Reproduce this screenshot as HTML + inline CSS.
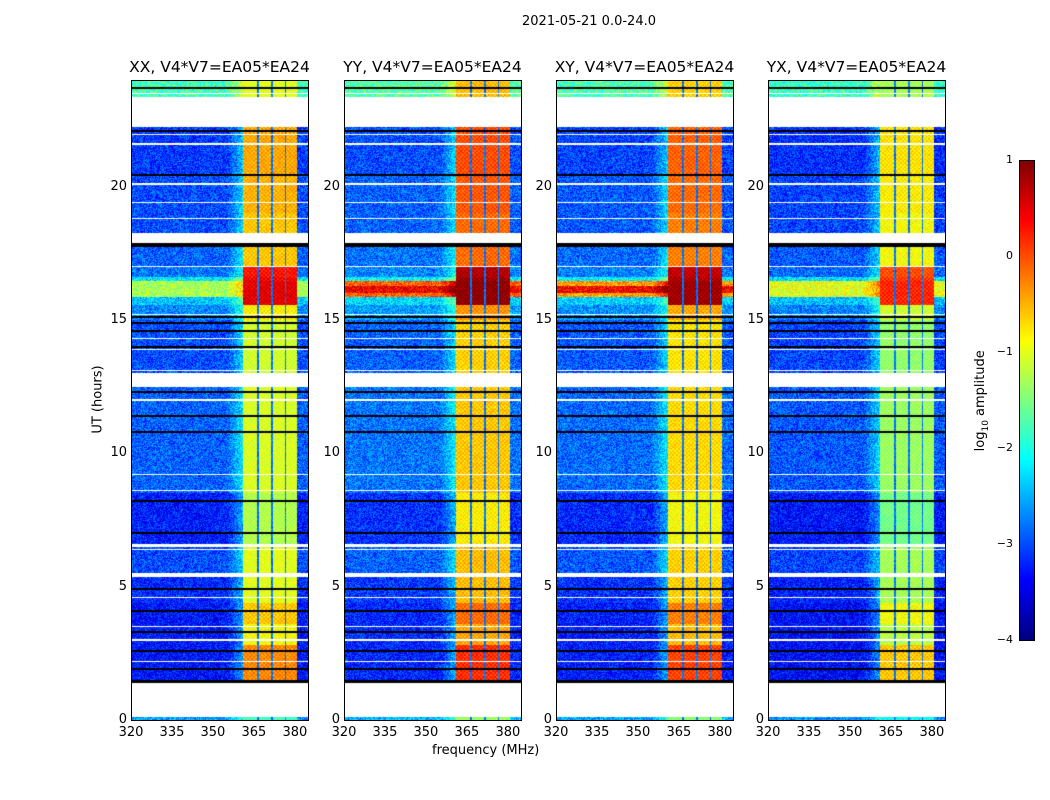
<!DOCTYPE html>
<html><head><meta charset="utf-8">
<style>
body{margin:0;background:#fff;}
#root{position:relative;width:1050px;height:800px;background:#fff;font-family:"DejaVu Sans","Liberation Sans",sans-serif;color:#000;overflow:hidden;}
.t{position:absolute;white-space:nowrap;}
canvas{position:absolute;}
.frame{position:absolute;border:1px solid #000;box-sizing:border-box;}
</style></head>
<body>
<div id="root">
  <div class="t" style="left:0;width:1178px;top:14px;text-align:center;font-size:13px;">2021-05-21 0.0-24.0</div>
  <div class="t" style="left:432px;top:743px;font-size:13px;">frequency (MHz)</div>
  <div class="t" style="left:60px;top:392px;font-size:13px;transform:rotate(-90deg);transform-origin:center;width:76px;text-align:center;">UT (hours)</div>
  <div class="t" style="left:930px;top:392px;font-size:13px;transform:rotate(-90deg);width:104px;text-align:center;">log<sub style="font-size:9px">10</sub> amplitude</div>
</div>
<script>
// ---- data ----
const panelTitles = ["XX, V4*V7=EA05*EA24","YY, V4*V7=EA05*EA24","XY, V4*V7=EA05*EA24","YX, V4*V7=EA05*EA24"];
const panelBgOffset = [0, 0.1, 0.05, -0.05];
const panelBandOffset = [0, 0.45, 0.35, -0.3];
const panelStripe = [-1.3, -0.1, -0.4, -1.0]; // level of 16h broadband stripe
// time segments: [start h, end h, background log10, band log10]; null bg = gap(white)
const segStart = [0, 0.12, 1.4, 1.5, 2.8, 3.6, 4.4, 5.35, 5.5, 6.5, 6.6, 8.5, 12.5, 13.0, 15.0, 15.55, 15.85, 16.45, 16.6, 17.0, 17.5, 17.73, 17.9, 18.26, 19.0, 20.4, 22.23, 23.36];
const segEnd   = [0.12, 1.4, 1.5, 2.8, 3.6, 4.4, 5.35, 5.5, 6.5, 6.6, 8.5, 12.5, 13.0, 15.0, 15.55, 15.85, 16.45, 16.6, 17.0, 17.5, 17.73, 17.9, 18.26, 19.0, 20.4, 22.23, 23.36, 24];
const segBg    = [-2.6, null, "k", -3.3, -3.3, -3.3, -3.2, null, -3.0, null, -3.25, -2.9, null, -3.0, -2.7, -2.4, "S", -2.2, -2.8, -2.9, -2.9, "k", null, -3.0, -3.0, -3.1, null, -1.8];
const segBand  = [-1.8, null, "k", -0.3, -0.9, -0.6, -1.0, null, -1.0, null, -1.25, -1.05, null, -1.1, -0.8, 0.5, 0.5, 0.4, 0.3, -0.6, -0.6, "k", null, -0.6, -0.5, -0.45, null, -1.0];
const whiteLines = [0.45, 2.2, 3.0, 3.5, 4.6, 6.4, 8.6, 9.2, 12.0, 13.1, 13.9, 14.3, 15.2, 17.0, 18.8, 19.4, 20.1, 21.6, 21.97, 23.5];
const blackLines = [1.9, 2.6, 3.3, 4.1, 4.9, 7.0, 8.2, 10.8, 11.4, 12.3, 14.0, 14.6, 14.9, 15.1, 20.44, 22.1, 23.7];
const bandEdges = [361, 366, 366.7, 371.2, 371.9, 376.2, 376.9, 380.8];
const xTicks = [320, 335, 350, 365, 380];
const yTicks = [0, 5, 10, 15, 20];
const cbTicks = [1, 0, -1, -2, -3, -4];
const freqMin = 320, freqMax = 384.8, tMin = 0, tMax = 24, vMin = -4, vMax = 1;

// ---- layout ----
const root = document.getElementById('root');
const panelLeft = [131, 344, 556, 768], panelW = 177, panelTop = 80, panelH = 640;
function xScale(f, i){ return panelLeft[i] + (f - freqMin) / (freqMax - freqMin) * panelW; }
function yScale(t){ return panelTop + panelH - (t - tMin) / (tMax - tMin) * panelH; }
function jet(v){
  let x = (v - vMin) / (vMax - vMin); x = Math.max(0, Math.min(1, x));
  const r = Math.max(0, Math.min(1, 1.5 - Math.abs(4*x - 3)));
  const g = Math.max(0, Math.min(1, 1.5 - Math.abs(4*x - 2)));
  const b = Math.max(0, Math.min(1, 1.5 - Math.abs(4*x - 1)));
  return [r*255|0, g*255|0, b*255|0];
}
function hash(a, b){ let h = (a*374761393 + b*668265263) | 0; h = (h ^ (h >>> 13)) * 1274126177; h = h ^ (h >>> 16); return ((h >>> 0) % 1000) / 1000; }
function inBand(f){ for (let k = 0; k < bandEdges.length; k += 2) if (f >= bandEdges[k] && f < bandEdges[k+1]) return true; return false; }
function near(t, arr, tol){ for (const a of arr) if (Math.abs(t - a) < tol) return true; return false; }

function value(i, t, f, px, py){
  let s = -1;
  for (let k = 0; k < segStart.length; k++) if (t >= segStart[k] && t < segEnd[k]) { s = k; break; }
  if (s < 0) s = segStart.length - 1;
  const bg = segBg[s];
  if (bg === null) return null;
  if (bg === "k") return "k";
  if (near(t, blackLines, 0.035)) return "k";
  if (near(t, whiteLines, 0.02)) return null;
  let base = bg === "S" ? panelStripe[i] : bg + panelBgOffset[i];
  if (bg === "S" && (i === 1 || i === 2) && Math.abs(t - 16.15) < 0.12) base = 0.4;
  const n = hash(px + i*1000, py) - 0.5;
  if (f >= 361 && f < 380.8) {
    if (!inBand(f)) return segBand[s] === "k" ? "k" : -2.8 + n*0.5;
    let bv = segBand[s] + panelBandOffset[i];
    bv = Math.min(bv, 0.95);
    const chk = ((px >> 1) + (py >> 1)) % 2 ? 0.12 : -0.12;
    return bv + chk + n * 0.3;
  }
  if (f >= 355 && f < 361) base += (f - 355) / 6 * 0.7;
  return base + n * 0.9;
}

function add(tag, name, inter, style, text){
  const el = document.createElement(tag);
  
  
  if (style) el.style.cssText = style;
  if (text !== undefined) el.textContent = text;
  root.appendChild(el);
  return el;
}

for (let i = 0; i < 4; i++) {
  const cv = document.createElement('canvas');
  
  
  cv.width = panelW; cv.height = panelH;
  cv.style.left = panelLeft[i] + 'px'; cv.style.top = panelTop + 'px';
  root.appendChild(cv);
  const ctx = cv.getContext('2d');
  const img = ctx.createImageData(panelW, panelH);
  for (let py = 0; py < panelH; py++) {
    const t = tMax - (py + 0.5) / panelH * (tMax - tMin);
    for (let px = 0; px < panelW; px++) {
      const f = freqMin + (px + 0.5) / panelW * (freqMax - freqMin);
      const v = value(i, t, f, px, py);
      let c;
      if (v === null) c = [255,255,255]; else if (v === "k") c = [0,0,0]; else c = jet(v);
      const o = (py * panelW + px) * 4;
      img.data[o] = c[0]; img.data[o+1] = c[1]; img.data[o+2] = c[2]; img.data[o+3] = 255;
    }
  }
  ctx.putImageData(img, 0, 0);
  add('div', 'panel-frame-' + (i+1), 'false', `left:${panelLeft[i]}px;top:${panelTop}px;width:${panelW+1}px;height:${panelH+1}px;`).className = 'frame';
  add('div', 'panel-title-' + (i+1), 'false', `left:${panelLeft[i]-30}px;width:${panelW+60}px;top:58px;text-align:center;font-size:15.5px;`, panelTitles[i]).className = 't';
  for (const xt of xTicks) {
    const x = xScale(xt, i);
    add('div', 'x-tick-label', 'false', `left:${x-20}px;width:40px;top:725px;text-align:center;font-size:13px;`, String(xt)).className = 't';
  }
  for (const yt of yTicks) {
    const y = yScale(yt);
    add('div', 'y-tick-label', 'false', `left:${panelLeft[i]-44}px;width:40px;top:${y-8}px;text-align:right;font-size:13px;`, String(yt)).className = 't';
  }
}
// colorbar
const cbX = 1019, cbW = 15, cbTop = 160, cbH = 480;
const cb = document.createElement('canvas');


cb.width = cbW; cb.height = cbH; cb.style.left = cbX + 'px'; cb.style.top = cbTop + 'px';
root.appendChild(cb);
const cctx = cb.getContext('2d');
for (let py = 0; py < cbH; py++) {
  const v = vMax - (py + 0.5) / cbH * (vMax - vMin);
  const c = jet(v);
  cctx.fillStyle = `rgb(${c[0]},${c[1]},${c[2]})`;
  cctx.fillRect(0, py, cbW, 1);
}
add('div', 'colorbar-frame', 'false', `left:${cbX}px;top:${cbTop}px;width:${cbW+1}px;height:${cbH+1}px;`).className = 'frame';
for (const v of cbTicks) {
  const y = cbTop + (vMax - v) / (vMax - vMin) * cbH;
  add('div', 'colorbar-tick-label', 'false', `left:${cbX-40}px;width:34px;top:${y-7}px;text-align:right;font-size:11px;`, v < 0 ? '\u2212' + (-v) : String(v)).className = 't';
}
</script>
</body></html>
